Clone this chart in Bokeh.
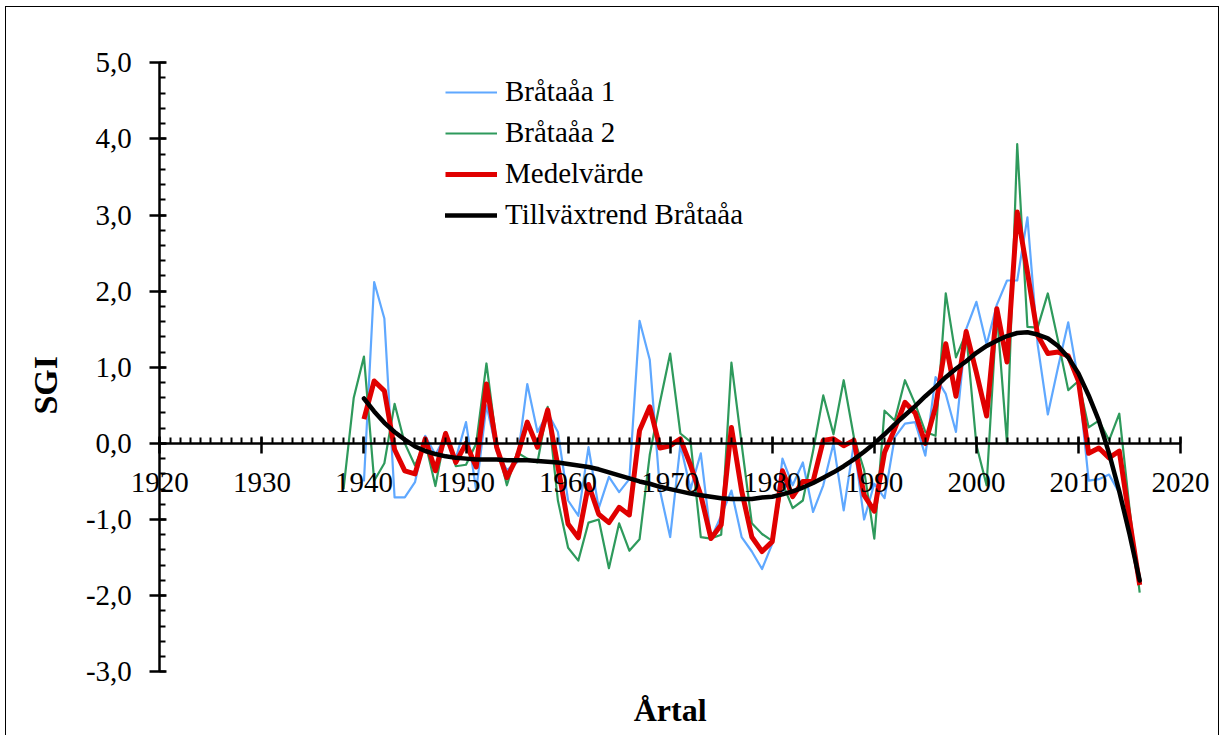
from bokeh.plotting import figure
from bokeh.models import (Range1d, SingleIntervalTicker, CustomJSTickFormatter, Legend,
                          LegendItem, Label, BasicTickFormatter)
from bokeh.embed import file_html
from bokeh.resources import INLINE

# ---------------- data ----------------
years_blue = list(range(1940, 2017))
blue = [-0.50, 2.12, 1.64, -0.71, -0.71, -0.51, 0.10, -0.15, 0.10, -0.20,
        0.28, -0.62, 0.50, -0.10, -0.35, -0.25, 0.78, 0.15, 0.40, 0.15,
        -0.75, -0.95, -0.05, -0.85, -0.44, -0.64, -0.47, 1.61, 1.10, -0.62,
        -1.23, -0.02, -0.60, -0.13, -1.25, -0.95, -0.62, -1.23, -1.42, -1.65,
        -1.32, -0.20, -0.55, -0.25, -0.90, -0.55, 0.00, -0.88, 0.00, -1.00,
        -0.53, -0.72, 0.08, 0.26, 0.28, -0.16, 0.87, 0.65, 0.15, 1.50,
        1.86, 1.30, 1.82, 2.14, 2.14, 2.97, 1.30, 0.38, 1.00, 1.59,
        0.82, -0.49, -0.47, -0.41, -0.65, -1.15, -1.78]

years_green = list(range(1938, 2017))
green = [-0.60, 0.60,
         1.14, -0.49, -0.26, 0.52, 0.00, -0.29, 0.02, -0.56, 0.15, -0.30,
         -0.28, 0.00, 1.05, 0.00, -0.55, -0.12, -0.20, -0.25, 0.48, -0.75,
         -1.37, -1.54, -1.04, -1.00, -1.64, -1.05, -1.41, -1.26, -0.15, 0.54,
         1.18, 0.13, 0.02, -1.23, -1.25, -1.20, 1.06, -0.01, -1.05, -1.19,
         -1.28, -0.52, -0.85, -0.75, -0.10, 0.63, 0.12, 0.83, 0.08, -0.35,
         -1.25, 0.43, 0.30, 0.83, 0.52, 0.15, 0.10, 1.97, 1.13, 1.45,
         -0.02, -0.55, 1.72, 0.00, 3.93, 1.53, 1.52, 1.97, 1.35, 0.70,
         0.82, 0.21, 0.30, 0.04, 0.39, -0.85, -1.96]

years_mean = list(range(1940, 2017))
mean = [0.32, 0.82, 0.69, -0.08, -0.36, -0.40, 0.06, -0.36, 0.13, -0.25,
        0.00, -0.31, 0.78, -0.05, -0.45, -0.18, 0.28, -0.05, 0.44, -0.30,
        -1.06, -1.24, -0.54, -0.93, -1.04, -0.84, -0.94, 0.17, 0.48, -0.06,
        -0.03, 0.06, -0.29, -0.68, -1.25, -1.07, 0.21, -0.62, -1.23, -1.42,
        -1.29, -0.36, -0.70, -0.50, -0.50, 0.04, 0.06, -0.03, 0.04, -0.68,
        -0.89, -0.12, 0.19, 0.54, 0.40, 0.00, 0.48, 1.31, 0.62, 1.47,
        0.93, 0.36, 1.77, 1.07, 3.04, 2.25, 1.42, 1.18, 1.20, 1.15,
        0.82, -0.13, -0.06, -0.19, -0.10, -1.00, -1.86]

years_trend = list(range(1940, 2017))
trend = [0.59, 0.42, 0.27, 0.15, 0.05, -0.04, -0.10, -0.14, -0.17, -0.19,
         -0.20, -0.21, -0.21, -0.21, -0.22, -0.22, -0.22, -0.23, -0.24, -0.25,
         -0.27, -0.29, -0.31, -0.34, -0.38, -0.42, -0.46, -0.50, -0.53, -0.57,
         -0.60, -0.63, -0.66, -0.68, -0.70, -0.72, -0.73, -0.73, -0.73, -0.71,
         -0.70, -0.67, -0.63, -0.58, -0.52, -0.45, -0.38, -0.30, -0.21, -0.11,
         0.00, 0.12, 0.25, 0.37, 0.49, 0.62, 0.74, 0.87, 0.98, 1.08,
         1.19, 1.28, 1.35, 1.41, 1.45, 1.46, 1.43, 1.38, 1.28, 1.13,
         0.92, 0.63, 0.30, -0.13, -0.63, -1.19, -1.80]

x_axis_bounds = (1920, 2020)
y_axis_bounds = (-3, 5)

series_labels = ["Bråtaåa 1", "Bråtaåa 2", "Medelvärde", "Tillväxtrend Bråtaåa"]
x_title = "Årtal"
y_title = "SGI"

FONT = "Liberation Serif"

# ---------------- figure ----------------
# the frame fills the whole canvas; both axes are placed at fixed data locations
p = figure(width=1212, height=728, output_backend="svg", toolbar_location=None,
           x_range=Range1d(1904.98, 2023.72), y_range=Range1d(-3.837, 5.726),
           min_border_left=0, min_border_right=0, min_border_top=0,
           min_border_bottom=0)
p.styles = {"margin-left": "6px", "margin-top": "7px", "outline": "1.5px solid #000000"}
p.outline_line_color = None
p.xgrid.visible = False
p.ygrid.visible = False
p.background_fill_color = "white"
p.border_fill_color = "white"

xa = p.xaxis[0]
xa.fixed_location = 0
xa.bounds = x_axis_bounds
xa.ticker = SingleIntervalTicker(interval=10, num_minor_ticks=10)
xa.formatter = BasicTickFormatter(use_scientific=False)
ya = p.yaxis[0]
ya.fixed_location = x_axis_bounds[0]
ya.bounds = y_axis_bounds
ya.ticker = SingleIntervalTicker(interval=1, num_minor_ticks=5)
ya.formatter = CustomJSTickFormatter(code="return tick.toFixed(1).replace('.', ',');")

for ax in (xa, ya):
    ax.axis_line_color = "black"
    ax.axis_line_width = 2.5
    ax.major_tick_line_color = "black"
    ax.major_tick_line_width = 2.5
    ax.minor_tick_line_color = "black"
    ax.minor_tick_line_width = 2
    ax.major_tick_in = 7
    ax.major_tick_out = 10
    ax.minor_tick_in = 6
    ax.minor_tick_out = 0
    ax.major_label_text_font = FONT
    ax.major_label_text_font_size = "29px"
    ax.major_label_text_color = "black"

xa.major_label_standoff = 20
ya.major_label_standoff = 18

yt = Label(x=x_axis_bounds[0], y=1, text=y_title, x_offset=-114, y_offset=-18,
           angle=90, angle_units="deg", text_align="center", text_baseline="middle",
           text_font=FONT, text_font_size="34px", text_font_style="bold",
           text_color="black")
p.add_layout(yt)

xt = Label(x=sum(x_axis_bounds) / 2, y=y_axis_bounds[0], text=x_title, y_offset=-38,
           text_align="center", text_baseline="alphabetic", text_font=FONT,
           text_font_size="32px", text_font_style="bold", text_color="black")
p.add_layout(xt)

# ---------------- series ----------------
rb = p.line(years_blue, blue, line_color="#5FA8FF", line_width=2.2, line_join="round")
rg = p.line(years_green, green, line_color="#2E9A5C", line_width=2.2, line_join="round")
rm = p.line(years_mean, mean, line_color="#E00000", line_width=5, line_join="round")
rt = p.line(years_trend, trend, line_color="#000000", line_width=4.5, line_join="round",
            line_cap="round")

legend = Legend(items=[LegendItem(label=series_labels[0], renderers=[rb]),
                       LegendItem(label=series_labels[1], renderers=[rg]),
                       LegendItem(label=series_labels[2], renderers=[rm]),
                       LegendItem(label=series_labels[3], renderers=[rt])],
                location=(439, 504))
legend.border_line_color = None
legend.background_fill_alpha = 0
legend.label_text_font = FONT
legend.label_text_font_size = "29px"
legend.label_text_color = "black"
legend.glyph_width = 52
legend.label_standoff = 8
legend.spacing = 8
legend.padding = 0
legend.margin = 0
p.add_layout(legend)

open("out.html", "w").write(file_html(p, INLINE))
